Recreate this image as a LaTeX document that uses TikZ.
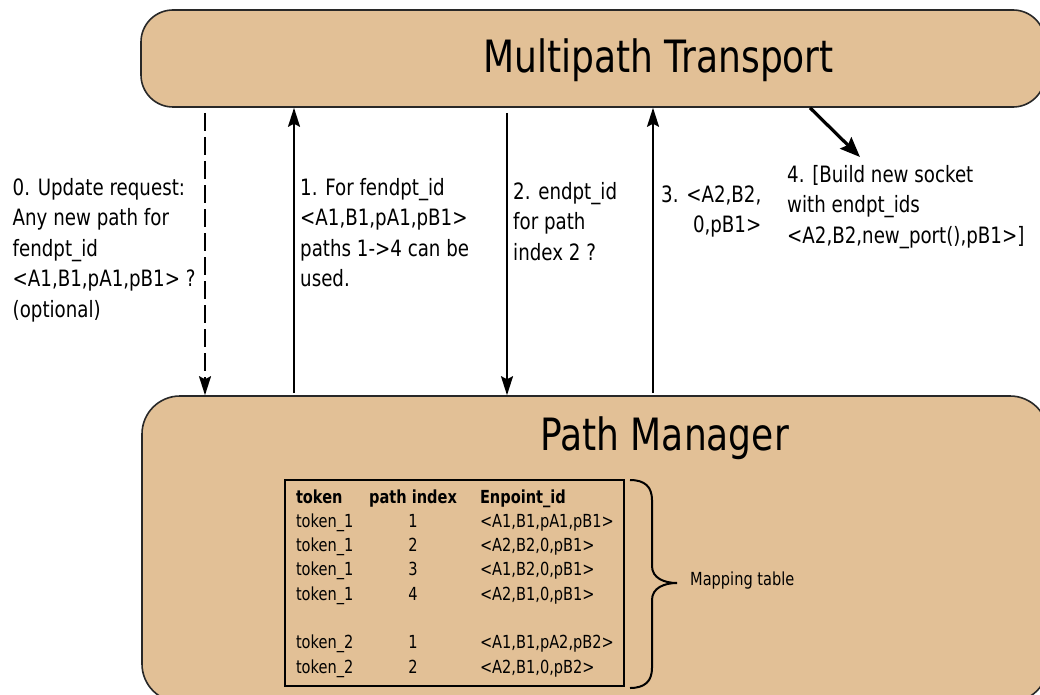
\documentclass[tikz,border=0pt]{standalone}
\usepackage{fontspec}
\setmainfont{DejaVu Sans}[FakeStretch=0.81]
\usepackage{array}
\usetikzlibrary{arrows.meta,calc}
\definecolor{boxtan}{RGB}{226,192,150}
\definecolor{edgegray}{RGB}{40,40,40}
\begin{document}
\begin{tikzpicture}[x=1pt,y=-1pt,
  box/.style={draw=edgegray, line width=1.6pt, fill=boxtan, inner sep=0pt},
  lbl/.style={anchor=north west, inner sep=0pt, align=left, font=\fontsize{22.5}{30.5}\selectfont},
  ttl/.style={anchor=base west, inner sep=0pt, font=\fontsize{44.5}{50}\selectfont},
  arr/.style={line width=1.8pt, -{Stealth[length=19pt,width=12pt,inset=3pt]}},
  arrb/.style={line width=3.2pt, -{Stealth[length=20pt,width=16pt,inset=3pt]}},
  dsh/.style={dash pattern=on 18pt off 6pt},
  bracestyle/.style={line width=2pt, draw=black}
]
\useasboundingbox (0,0) rectangle (1040,695);
\fill[white] (0,0) rectangle (1040,695);
\clip (0,0) rectangle (1040,695);

% boxes
\node[box, rounded corners=32pt, minimum width=904pt, minimum height=97pt] (mt) at (593,58.5) {};
\node[box, rounded corners=38pt, minimum width=906pt, minimum height=306pt] (pm) at (595,549) {};
\node[ttl] (mtt) at (483,73) {Multipath Transport};
\node[ttl] (pmt) at (540,450) {Path Manager};

% arrows
\coordinate (s0) at (205,113);
\draw[arr, dsh] (s0) -- (s0 |- pm.north);
\coordinate (s1) at (294,393);
\draw[arr] (s1) -- (s1 |- mt.south);
\coordinate (s2) at (507,113);
\draw[arr] (s2) -- (s2 |- pm.north);
\coordinate (s3) at (653,393);
\draw[arr] (s3) -- (s3 |- mt.south);
\coordinate (e4) at (860,157);
\draw[arrb] (810,0 |- mt.south) -- (e4);

% labels
\node[lbl] (l0) at (12.5,178) {0. Update request:\\Any new path for\\fendpt\_id\\<A1,B1,pA1,pB1> ?\\(optional)};
\node[lbl] (l1) at (300,178) {1. For fendpt\_id\\<A1,B1,pA1,pB1>\\paths 1->4 can be\\used.};
\node[lbl] (l2) at (513,182) {2. endpt\_id\\for path\\index 2 ?};
\node[lbl, align=right] (l3) at (661,185.5) {3. <A2,B2,\\0,pB1>};
\node[lbl] (l4) at (787,165) {4. [Build new socket\\with endpt\_ids\\<A2,B2,new\_port(),pB1>]};

% table
\node[draw=black, line width=2pt, anchor=north west, inner xsep=11pt, inner ysep=6pt,
      font=\fontsize{18}{24.3}\selectfont] (tbl) at (284,479) {%
\begin{tabular}{@{}p{73pt}@{}>{\centering\arraybackslash}p{88pt}@{\hspace{23pt}}p{133pt}@{}}
\textbf{token} & \textbf{path index} & \textbf{Enpoint\_id}\\
token\_1 & 1 & <A1,B1,pA1,pB1>\\
token\_1 & 2 & <A2,B2,0,pB1>\\
token\_1 & 3 & <A1,B2,0,pB1>\\
token\_1 & 4 & <A2,B1,0,pB1>\\
 & & \\
token\_2 & 1 & <A1,B1,pA2,pB2>\\
token\_2 & 2 & <A2,B1,0,pB2>
\end{tabular}};

% brace
\draw[bracestyle] (630,480) .. controls (645,480) and (652,487) .. (652,500)
  -- (652,566) .. controls (652,578) and (664,583) .. (677,583)
  .. controls (664,583) and (652,588) .. (652,600)
  -- (652,668) .. controls (652,681) and (645,688) .. (630,688);
\node[anchor=base west, inner sep=0pt, font=\fontsize{18}{22}\selectfont] (mtl) at (690,585) {Mapping table};
\end{tikzpicture}
\end{document}
